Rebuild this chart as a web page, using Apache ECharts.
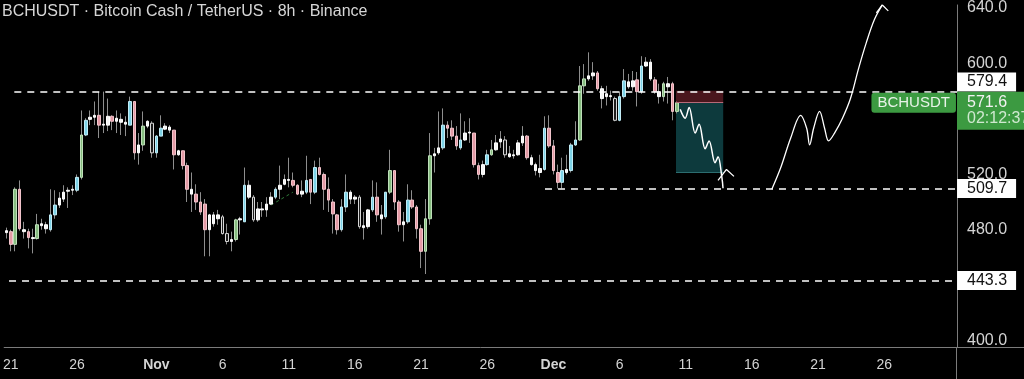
<!DOCTYPE html>
<html><head><meta charset="utf-8">
<script src="https://cdn.jsdelivr.net/npm/echarts@6/dist/echarts.min.js"></script>
<style>html,body{margin:0;padding:0;background:#000;}#c{width:1024px;height:379px;}</style>
</head><body><div id="c"></div>
<script>
// ---- data ----
const START_UTC = Date.UTC(2024, 9, 20, 16); // first 8h slot
const SLOT_HOURS = 8;
const SLOT_COUNT = 216;
const LABEL_DAYS = [1, 6, 11, 16, 21, 26];
const MONTHS = ['Jan','Feb','Mar','Apr','May','Jun','Jul','Aug','Sep','Oct','Nov','Dec'];

const opens = [479.2,478.5,469.3,509.1,479.9,478.5,474.2,473.5,482.8,483.5,
479.9,490.6,497.7,502.0,507.7,508.4,508.4,517.7,548.3,559.6,
561.1,562.5,555.4,555.4,561.8,558.2,559.6,557.5,555.4,572.5,
535.4,541.1,554.7,556.8,535.4,547.5,552.5,554.0,551.8,534.0,
536.9,526.2,509.1,505.6,499.9,498.4,479.9,490.6,487.8,489.2,
477.1,471.4,472.8,487.0,485.6,512.0,503.4,487.0,494.2,494.2,
498.4,503.4,509.1,512.7,515.5,515.5,512.0,505.6,507.0,516.2,
507.0,524.8,519.8,509.1,499.9,490.6,479.9,496.3,507.0,503.4,
503.4,482.8,482.1,494.2,503.4,490.6,489.2,507.0,522.6,499.9,
483.5,485.6,501.3,496.3,480.6,464.3,487.8,533.3,535.4,539.0,
555.4,553.2,547.5,539.0,544.7,549.7,549.7,526.2,519.8,526.9,
534.0,537.6,543.3,544.7,534.7,534.0,534.0,542.6,547.5,531.9,
526.9,521.2,523.4,553.2,540.4,521.2,514.1,521.2,522.6,541.1,
544.7,583.8,588.8,591.0,593.1,581.7,576.0,576.7,574.6,558.9,
576.0,583.1,583.1,588.1,579.6,598.1,600.9,588.1,579.6,576.0,
585.3,585.3,565.3];
const closes = [477.8,469.3,509.1,480.6,478.5,474.2,473.5,483.5,484.2,480.6,
490.6,497.7,502.7,507.0,508.4,509.1,517.7,548.3,558.9,561.1,
562.5,555.4,556.1,561.8,558.2,560.4,557.5,556.1,572.5,535.4,
541.1,554.7,558.2,535.4,547.5,553.2,554.7,551.8,534.0,536.9,
526.2,509.1,505.6,499.9,492.7,479.9,490.6,484.2,490.6,477.1,
471.4,472.8,487.0,487.8,512.0,503.4,487.0,494.9,494.9,498.4,
503.4,509.1,512.0,516.2,516.2,512.0,505.6,507.7,515.5,507.0,
524.8,519.8,509.1,501.3,491.3,479.9,496.3,507.0,502.0,502.0,
482.1,481.4,494.2,503.4,490.6,487.8,507.0,522.6,499.9,483.5,
485.6,501.3,496.3,480.6,464.3,487.8,533.3,534.7,539.0,555.4,
553.2,547.5,540.4,544.7,549.7,550.4,526.9,519.8,526.9,534.0,
537.6,542.6,545.4,534.0,532.6,533.3,542.6,547.5,531.9,526.9,
522.6,524.1,553.2,540.4,522.6,514.1,522.6,523.4,541.1,544.7,
583.8,588.8,591.0,593.1,581.7,574.6,578.1,576.0,558.9,576.0,
587.4,586.7,587.4,579.6,598.1,600.9,588.8,579.6,576.0,585.3,
583.1,565.3,571.6];
const lows = [473.5,464.3,464.3,479.2,473.5,466.4,462.8,472.8,479.9,477.1,
478.5,487.8,495.6,499.9,495.6,504.9,507.0,516.2,547.5,555.4,
555.4,546.1,549.7,551.1,551.8,549.7,548.3,547.5,555.4,530.5,
526.9,536.9,553.2,531.9,531.9,547.5,551.8,549.7,523.4,533.3,
523.4,499.9,492.7,494.2,490.6,460.7,460.7,482.1,483.5,476.4,
469.3,464.3,471.4,476.4,485.6,502.0,485.6,485.6,489.2,489.2,
497.7,502.0,502.0,512.0,510.5,510.5,504.9,503.4,505.6,498.4,
505.6,519.1,494.2,492.7,477.1,476.4,478.5,492.7,498.4,498.4,
480.6,472.8,480.6,492.7,485.6,476.4,487.8,505.6,494.2,478.5,
471.4,484.2,494.9,473.5,452.2,447.9,483.5,521.2,534.0,537.6,
546.1,544.7,537.6,537.6,544.0,542.6,524.8,516.2,517.7,526.2,
533.3,536.9,539.0,531.9,531.9,531.2,533.3,540.4,530.5,526.2,
519.1,517.7,522.6,539.0,519.8,509.7,509.7,519.8,521.2,540.4,
544.0,578.1,587.4,588.1,580.3,567.5,569.6,573.2,558.2,558.2,
574.6,581.7,580.3,568.9,578.1,597.4,587.4,578.1,571.0,572.5,
571.0,558.9,563.9];
const highs = [481.4,479.9,510.5,515.5,485.6,480.6,480.6,491.3,487.8,485.6,
509.1,508.4,507.0,512.0,510.5,512.0,519.8,566.0,560.4,566.0,
572.5,579.6,579.6,574.6,562.5,566.0,563.9,561.8,576.0,572.5,
549.7,565.3,558.9,558.2,548.3,562.5,556.8,555.4,551.8,537.6,
536.9,528.3,521.2,512.7,507.0,502.0,491.3,492.7,494.2,490.6,
484.2,478.5,487.8,489.2,524.8,515.5,504.9,499.9,499.9,503.4,
507.0,510.5,526.2,519.8,531.9,521.2,512.7,515.5,533.3,516.2,
529.8,531.9,521.2,517.7,502.0,491.3,502.0,519.8,508.4,504.9,
504.9,492.7,494.9,515.5,514.1,497.7,507.0,537.6,522.6,501.3,
492.7,512.7,508.4,497.7,483.5,502.0,549.7,539.0,565.3,567.5,
558.2,558.9,554.7,563.9,558.2,560.4,549.7,528.3,529.8,537.6,
544.7,548.3,551.1,547.5,540.4,537.6,544.7,554.7,548.3,534.0,
528.3,534.0,561.8,562.5,544.7,526.9,531.9,534.0,542.6,558.2,
598.1,599.5,608.0,600.9,594.5,583.8,583.8,580.3,576.0,579.6,
595.9,592.4,594.5,593.8,605.2,604.5,603.1,590.2,585.3,586.7,
590.2,586.7,572.5];
// bar colouring class per candle (w white, h hollow, p pink, c cyan, g green)
const barClass = ("wpgpwpwgwwccwwwwcgcwwpwwpwwwcpwg" +
  "whccwwpwppwpppwwwhhwgwcwhwwwwc" +
  "wwwppwcpcpppppccwwhwwcpwcgppwcp" +
  "ppggwwcpppcwwppwcgwwhwwwwpwwwcp" +
  "ppcwccggwwpwwwhccwwpcwwpwgwpg").split('');

const yTickValues = [400, 480, 520, 600, 640];
const levels = [579.4, 509.7, 443.3];
const levelStart = [1.8, 122.1, 0.6];      // slot index where each level line starts
const levelLabelShift = [-10, 0, 0];
const lastPrice = 571.6;
const countdown = '02:12:37';
const symbolName = 'BCHUSDT';
const shortStop = 580.3, shortTarget = 521.5, shortFrom = 151.8, shortTo = 162.5;

const sellPath = [[152.75,566.8],[153.88,560.4],[154.78,568.2],[156.14,549.7],[157.04,556.1],[158.40,538.3],[159.30,544.0],[160.65,528.3],[161.33,532.6],[162.23,516.9],[162.46,509.8]];
const sellHook = [[161.33,515.5],[163.24,523.4],[164.94,518.4]];
const buyPath = [[173.52,509.1],[175.55,524.8],[177.80,546.1],[180.06,562.5],[181.42,553.2],[182.10,541.1],[183.00,553.2],[184.35,565.3],[185.48,553.2],[186.38,544.0],[187.74,549.7],[189.54,560.4],[191.35,574.6],[193.15,595.9],[194.96,615.2],[196.76,631.5],[198.57,642.2]];
const buyArrow = [[197.22,636.5],[198.57,642.2],[199.92,637.9]];
const trendHint = [[60.0,497.7],[64.95,507.0]];

// ---- build ----
const slotTimes = Array.from({length: SLOT_COUNT}, (_, i) => new Date(START_UTC + i * SLOT_HOURS * 3600e3));
const categories = slotTimes.map(d => d.toISOString().slice(0, 13));
const palette = {
  w: {fill: '#f4f4f4', edge: '#ffffff'},
  h: {fill: '#1c1c1c', edge: '#d8d8d8'},
  p: {fill: '#e39aa5', edge: '#f2c4cb'},
  c: {fill: '#7dd2e6', edge: '#c2ecf6'},
  g: {fill: '#86bc80', edge: '#bfe0ba'}
};
const wickRows = opens.map((o, i) => [o, closes[i], lows[i], highs[i]]);
const bodyRows = opens.map((o, i) => {
  const c = closes[i], col = palette[barClass[i]];
  return {value: [o, c, Math.min(o, c), Math.max(o, c)],
    itemStyle: {color: col.fill, color0: col.fill, borderColor: col.edge, borderColor0: col.edge}};
});
const FONT = 'Liberation Sans';
const GREEN = '#3c9a41';
const RIGHT = SLOT_COUNT - 0.5;

const chart = echarts.init(document.getElementById('c'));
chart.setOption({
  backgroundColor: '#000',
  animation: false,
  textStyle: {fontFamily: FONT},
  title: {text: symbolName + ' · Bitcoin Cash / TetherUS · 8h · Binance', left: 2, top: 4, padding: 0,
    textStyle: {color: '#d6d6d6', fontSize: 16, fontWeight: 'normal', fontFamily: FONT}},
  grid: {left: 0, right: 67, top: 0, bottom: 32},
  xAxis: [{
    type: 'category', data: categories, boundaryGap: true,
    axisLine: {show: true, onZero: false, lineStyle: {color: '#7b7b7b', width: 1}},
    axisTick: {show: false}, splitLine: {show: false},
    axisLabel: {
      color: '#d4d4d4', fontSize: 14, margin: 11,
      interval: (idx) => slotTimes[idx].getUTCHours() === 0 && LABEL_DAYS.includes(slotTimes[idx].getUTCDate()),
      formatter: (val) => {
        const d = new Date(val + ':00:00Z');
        return d.getUTCDate() === 1 ? '{m|' + MONTHS[d.getUTCMonth()] + '}' : String(d.getUTCDate());
      },
      rich: {m: {fontWeight: 'bold', fontSize: 14, color: '#d4d4d4', fontFamily: FONT}}
    }
  }, {
    type: 'value', min: -0.5, max: RIGHT, show: false,
    axisLine: {show: false, onZero: false}
  }],
  yAxis: {
    type: 'value', position: 'right', min: 395.2, max: 642.2,
    axisLine: {show: true, onZero: false, lineStyle: {color: '#7b7b7b', width: 1}},
    axisTick: {show: false}, splitLine: {show: false},
    axisLabel: {customValues: yTickValues, color: '#d4d4d4', fontSize: 16, margin: 10,
      formatter: v => v.toFixed(1)}
  },
  graphic: [
    {type: 'line', shape: {x1: 957, y1: 347.5, x2: 1024, y2: 347.5}, style: {stroke: '#7b7b7b', lineWidth: 1}, silent: true},
    {type: 'line', shape: {x1: 956.5, y1: 347, x2: 956.5, y2: 379}, style: {stroke: '#7b7b7b', lineWidth: 1}, silent: true}
  ],
  series: [
    {
      type: 'line', xAxisIndex: 1, data: [], z: 1, silent: true,
      markArea: {silent: true, data: [
        [{coord: [shortFrom, shortStop], itemStyle: {color: '#4a161d'}}, {coord: [shortTo, lastPrice]}],
        [{coord: [shortFrom, lastPrice], itemStyle: {color: '#0d3a3d'}}, {coord: [shortTo, shortTarget]}]
      ]}
    },
    {
      type: 'candlestick', xAxisIndex: 0, data: wickRows, barWidth: 1, z: 2, silent: true,
      itemStyle: {color: '#8e8e8e', color0: '#8e8e8e', borderColor: '#8e8e8e', borderColor0: '#8e8e8e', borderWidth: 1}
    },
    {
      type: 'candlestick', xAxisIndex: 0, data: bodyRows, barWidth: 3, z: 3, silent: true,
      itemStyle: {borderWidth: 1}
    },
    {
      type: 'line', xAxisIndex: 1, data: [], z: 4, silent: true,
      markLine: {
        symbol: 'none', silent: true, animation: false,
        label: {show: false},
        lineStyle: {color: '#ffffff', type: [7, 6], width: 1.5},
        data: levels.map((v, k) => [{coord: [levelStart[k], v]}, {coord: [RIGHT, v]}]).concat([
          [{coord: [shortFrom, lastPrice], lineStyle: {color: '#b66a78', type: 'solid', width: 1}}, {coord: [shortTo, lastPrice]}],
          [{coord: [shortFrom, shortTarget], lineStyle: {color: '#2c6d70', type: 'solid', width: 1}}, {coord: [shortTo, shortTarget]}]
        ])
      },
      markPoint: {
        silent: true, symbol: 'circle', symbolSize: 0.1,
        itemStyle: {color: 'rgba(0,0,0,0)'},
        data: levels.map((v, k) => ({
          coord: [RIGHT, v],
          label: {show: true, position: 'right', distance: 0, offset: [0, levelLabelShift[k]],
            formatter: v.toFixed(1), backgroundColor: '#ffffff', color: '#111111', fontSize: 16,
            fontFamily: FONT, padding: [2, 9, 2, 10], lineHeight: 15}
        })).concat([
          {coord: [RIGHT, lastPrice], label: {show: true, position: 'right', distance: 0, offset: [0, 8],
            formatter: '{a|' + lastPrice.toFixed(1) + '}\n{b|' + countdown + '}',
            backgroundColor: GREEN, padding: [3, 10, 3, 10],
            rich: {a: {color: '#f2f2f2', fontSize: 16, lineHeight: 16, fontFamily: FONT},
                   b: {color: '#cfe8cf', fontSize: 16, lineHeight: 16, fontFamily: FONT}}}},
          {coord: [RIGHT, lastPrice], label: {show: true, position: 'left', distance: 1,
            formatter: symbolName, backgroundColor: GREEN, borderRadius: 3, padding: [3, 6, 2, 6],
            color: '#e8f3e8', fontSize: 15, lineHeight: 15, fontFamily: FONT}}
        ])
      }
    },
    {type: 'line', xAxisIndex: 1, data: sellPath, smooth: 0.35, symbol: 'none', z: 5, silent: true,
      lineStyle: {color: '#ffffff', width: 1.5}},
    {type: 'line', xAxisIndex: 1, data: sellHook, symbol: 'none', z: 5, silent: true,
      lineStyle: {color: '#ffffff', width: 1.3}},
    {type: 'line', xAxisIndex: 1, data: buyPath, smooth: 0.35, symbol: 'none', z: 5, silent: true,
      lineStyle: {color: '#ffffff', width: 1.3}},
    {type: 'line', xAxisIndex: 1, data: buyArrow, symbol: 'none', z: 5, silent: true,
      lineStyle: {color: '#ffffff', width: 1.3}},
    {type: 'line', xAxisIndex: 1, data: trendHint, symbol: 'none', z: 1, silent: true,
      lineStyle: {color: '#2f7a3a', width: 1, type: [3, 3]}}
  ]
});
</script></body></html>
